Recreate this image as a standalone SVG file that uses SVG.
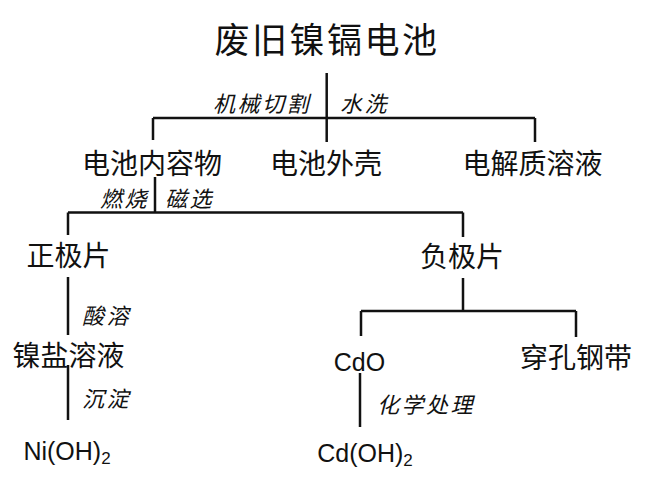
<svg xmlns="http://www.w3.org/2000/svg" width="668" height="500" viewBox="0 0 668 500">
<style>
.cn{font-family:"Noto Sans CJK SC","Noto Sans",sans-serif;font-size:28px;fill:#111;text-anchor:middle}
.ti{font-size:35px;letter-spacing:2.5px}
.lb{font-family:"Noto Sans CJK SC","Noto Sans",sans-serif;font-size:22px;font-style:italic;letter-spacing:2.5px;fill:#111}
.lat{font-family:"Liberation Sans",Arial,sans-serif;font-size:25px;fill:#111;text-anchor:middle}
.sub{font-size:17px}
.cx path{stroke:#111;stroke-width:2.5;fill:none}
</style>
<rect width="668" height="500" fill="#fff"/>
<g class="cx" id="connectors">
<path d="M326.7 73V142"/>
<path d="M153 118H535M153 118V140M535 118V142"/>
<path d="M155 177V212.5"/>
<path d="M68 212.5H463M68 212.5V235M463 212.5V237"/>
<path d="M68 277V335M68 365V420"/>
<path d="M463 278V311M361 311H576M361 311V336M576 311V337"/>
<path d="M360 373V427"/>
</g>
<g id="labels">
<text class="lb" x="213" y="111.5">机械切割</text>
<text class="lb" x="340" y="111.5">水洗</text>
<text class="lb" x="100" y="206.5">燃烧</text>
<text class="lb" x="165" y="206.5">磁选</text>
<text class="lb" x="82" y="323.5">酸溶</text>
<text class="lb" x="82" y="406.5">沉淀</text>
<text class="lb" x="377" y="413">化学处理</text>
</g>
<g id="n-title"><text class="cn ti" x="327" y="52.5">废旧镍镉电池</text></g>
<g id="n-contents"><text class="cn" x="152" y="174">电池内容物</text></g>
<g id="n-shell"><text class="cn" x="326" y="174">电池外壳</text></g>
<g id="n-electrolyte"><text class="cn" x="532.5" y="174">电解质溶液</text></g>
<g id="n-pos"><text class="cn" x="68.5" y="266">正极片</text></g>
<g id="n-neg"><text class="cn" x="462" y="267">负极片</text></g>
<g id="n-nisalt"><text class="cn" x="68.5" y="366">镍盐溶液</text></g>
<g id="n-cdo"><text class="lat" x="359.5" y="371">CdO</text></g>
<g id="n-steel"><text class="cn" x="576" y="368">穿孔钢带</text></g>
<g id="n-nioh"><text class="lat" x="67" y="460">Ni(OH)<tspan class="sub" dy="4">2</tspan></text></g>
<g id="n-cdoh"><text class="lat" x="365" y="462">Cd(OH)<tspan class="sub" dy="4">2</tspan></text></g>
</svg>
